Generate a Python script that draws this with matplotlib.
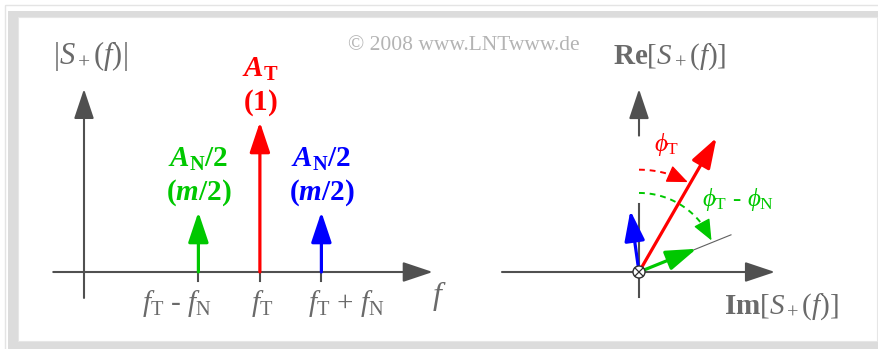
import numpy as np
import matplotlib
matplotlib.use('Agg')
import matplotlib.pyplot as plt
from matplotlib.patches import Rectangle, Circle, FancyArrowPatch, ArrowStyle

plt.rcParams['font.family'] = 'Liberation Serif'
plt.rcParams['mathtext.fontset'] = 'custom'
plt.rcParams['mathtext.rm'] = 'Liberation Serif'
plt.rcParams['mathtext.it'] = 'Liberation Serif:italic'
plt.rcParams['mathtext.bf'] = 'Liberation Serif:bold'
plt.rcParams['mathtext.bfit'] = 'Liberation Serif:bold:italic'

# spectrum of the analytic signal, frequencies in units of f_N, amplitudes in units of A_T
f_T = 2.86
f_N = 1.0
m = 0.8
line_freq = [f_T - f_N, f_T, f_T + f_N]
line_amp = [m / 2, 1.0, m / 2]
line_color = ['#00c800', '#ff0000', '#0000ff']
amp_name = [r'$\mathbfit{A}_\mathbf{N}\mathbf{/2}$', r'$\mathbfit{A}_\mathbf{T}$',
            r'$\mathbfit{A}_\mathbf{N}\mathbf{/2}$']
amp_value = [r'$\mathbf{(}\mathbfit{m}\mathbf{/2)}$', r'$\mathbf{(1)}$',
             r'$\mathbf{(}\mathbfit{m}\mathbf{/2)}$']
freq_label = [r'$f_\mathrm{T}$ - $f_\mathrm{N}$', r'$f_\mathrm{T}$',
              r'$f_\mathrm{T}$ + $f_\mathrm{N}$']

# phases in degrees, counted clockwise from the Re axis
phi_T = 30
phi_N = -38
phasor_phase = [phi_T - phi_N, phi_T, phi_T + phi_N]

W, H = 879, 349
fig = plt.figure(figsize=(W / 100, H / 100), dpi=100)

axis_col = '#505050'
text_col = '#6a6a6a'


def panel(x0, x1, y0, y1, ox, oy, sx, sy):
    # axes placed by pixel box, data origin at pixel (ox, oy)
    ax = fig.add_axes([x0 / W, 1 - y1 / H, (x1 - x0) / W, (y1 - y0) / H])
    ax.set_xlim((x0 - ox) / sx, (x1 - ox) / sx)
    ax.set_ylim((oy - y1) / sy, (oy - y0) / sy)
    ax.axis('off')
    return ax


def arrow(ax, p0, p1, color, lw, hl=18.5, hw=6.2, z=3):
    style = ArrowStyle('-|>', head_length=hl, head_width=hw)
    ax.add_patch(FancyArrowPatch(p0, p1, arrowstyle=style, mutation_scale=1,
                                 shrinkA=0, shrinkB=0, color=color, lw=lw, zorder=z))


# frame
bg = fig.add_axes([0, 0, 1, 1])
bg.set_xlim(0, W)
bg.set_ylim(H, 0)
bg.axis('off')
bg.add_patch(Rectangle((5, 5), 880, 350, fill=False, ec='#e4e4e4', lw=1))
bg.add_patch(Rectangle((8, 11), 880, 350, fc='#dcdcdc', ec='none'))
bg.add_patch(Rectangle((18, 17), 859, 324, fc='white', ec='#e6e6e6', lw=0.8))
bg.text(464, 45, '© 2008 www.LNTwww.de', ha='center', va='center',
        fontsize=15.5, color='#b4b4b4')

# left: magnitude spectrum
axL = panel(25, 455, 25, 335, 84, 272, 61.5, 150)
arrow(axL, (-0.5, 0), (5.67, 0), axis_col, 1.5)
arrow(axL, (0, -0.173), (0, 1.22), axis_col, 1.5)
axL.text(0.1, 1.44, r'$|S_+(f)|$', ha='center', va='center', fontsize=22, color=text_col)
axL.text(5.78, -0.16, r'$f$', ha='center', va='center', fontsize=23, color=text_col)

offs = [0.22, 0.03, -0.22]
aligns = ['right', 'center', 'left']
for f, a, c, nm, val, lab, dx, al in zip(line_freq, line_amp, line_color, amp_name,
                                         amp_value, freq_label, offs, aligns):
    axL.plot([f, f], [0, -0.06], color=axis_col, lw=1.5)
    arrow(axL, (f, 0), (f, a), c, 2.3)
    axL.text(f, a + 0.35, nm, color=c, ha='center', va='center', fontsize=21)
    axL.text(f, a + 0.13, val, color=c, ha='center', va='center', fontsize=21)
    axL.text(f + dx, -0.213, lab, color=text_col, ha=al, va='center', fontsize=21)

# right: phasor diagram
axR = panel(470, 875, 25, 335, 639, 272, 155, 155)
arrow(axR, (-0.884, 0), (0.877, 0), axis_col, 1.5)
axR.plot([0, 0], [-0.16, 0.44], color=axis_col, lw=1.5)
arrow(axR, (0, 0.88), (0, 1.18), axis_col, 1.5)
axR.text(0.2, 1.387, r'$\mathbf{Re}[S_+(f)]$', ha='center', va='center',
         fontsize=21, color=text_col)
axR.text(0.916, -0.226, r'$\mathbf{Im}[S_+(f)]$', ha='center', va='center',
         fontsize=21, color=text_col)

ph_green = np.radians(phasor_phase[0])
axR.plot([0.36 * np.sin(ph_green), 0.64 * np.sin(ph_green)],
         [0.36 * np.cos(ph_green), 0.64 * np.cos(ph_green)], color='#606060', lw=0.8, zorder=2)

for i in [2, 0, 1]:
    ph = np.radians(phasor_phase[i])
    a = line_amp[i]
    arrow(axR, (0, 0), (a * np.sin(ph), a * np.cos(ph)), line_color[i], 2.3, z=4 + i)

# angle arcs
for r, ang, c in [(0.66, phi_T, '#ff0000'), (0.51, phasor_phase[0], '#00c800')]:
    t = np.radians(np.linspace(0, ang - 9, 40))
    axR.plot(r * np.sin(t), r * np.cos(t), color=c, lw=1.4, ls=(0, (3, 2.5)), zorder=3)
    t0, t1 = np.radians(ang - 11), np.radians(ang - 1.5)
    arrow(axR, (r * np.sin(t0), r * np.cos(t0)), (r * np.sin(t1), r * np.cos(t1)), c, 1.0,
          hl=13, hw=5.5, z=3)

axR.text(0.18, 0.82, r'$ϕ_\mathrm{T}$', ha='center', va='center', fontsize=18, color='#ff0000')
axR.text(0.64, 0.465, r'$ϕ_\mathrm{T}$ - $ϕ_\mathrm{N}$', ha='center', va='center',
         fontsize=18, color='#00c800')

# origin marker
axR.add_patch(Circle((0, 0), 6 / 155, fc='white', ec='#303030', lw=1.0, zorder=10))
k = 4 / 155
axR.plot([-k, k], [-k, k], color='#303030', lw=0.9, zorder=11)
axR.plot([-k, k], [k, -k], color='#303030', lw=0.9, zorder=11)

fig.savefig('out.png', dpi=100)
